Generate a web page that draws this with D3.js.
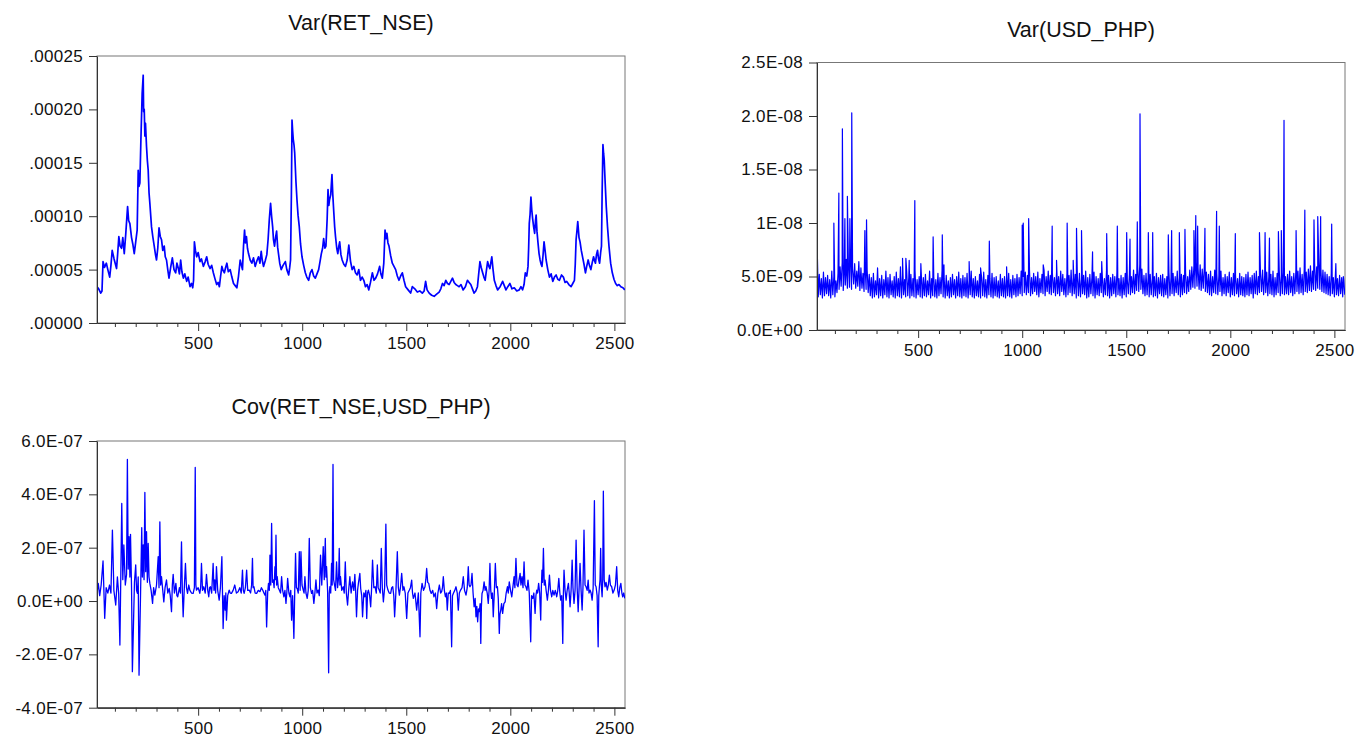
<!DOCTYPE html>
<html>
<head>
<meta charset="utf-8">
<script src="https://cdn.jsdelivr.net/npm/d3@7"></script>
<style>
  body { margin: 0; background: #fff; }
  svg { display: block; }
  .title { font-family: "Liberation Sans", Arial, sans-serif; font-size: 21.5px; fill: #111; }
  .tick text { font-family: "Liberation Sans", Arial, sans-serif; font-size: 17px; letter-spacing: 0.3px; fill: #111; }
</style>
</head>
<body>
<script>
// observation range shown on every x axis
var obsRange = [14, 2551];
var xMajor = [500, 1000, 1500, 2000, 2500];
var xMinor = [100, 200, 300, 400, 600, 700, 800, 900, 1100, 1200, 1300, 1400,
              1600, 1700, 1800, 1900, 2100, 2200, 2300, 2400];

// Var(RET_NSE), values in 1e-5
var nseTicks = [0, 5e-5, 10e-5, 15e-5, 20e-5, 25e-5];
var nseLabels = [".00000", ".00005", ".00010", ".00015", ".00020", ".00025"];
var nseVar = [
  [14, 3.4], [22, 3.2], [32, 2.8], [38, 3.0], [43, 5.75], [50, 5.2], [59, 5.6], [66, 5.0], [75, 4.3], [81, 5.4],
  [87, 6.8], [96, 6.0], [108, 5.1], [113, 6.4], [119, 8.1], [125, 7.2], [132, 7.0], [138, 8.0], [145, 6.5], [152, 8.3],
  [161, 10.9], [166, 9.6], [172, 9.3], [180, 8.0], [186, 7.4], [193, 6.5], [200, 7.6], [207, 8.7], [212, 14.3], [216, 12.8],
  [220, 13.1], [225, 17.2], [231, 21.5], [236, 23.2], [238, 19.8], [241, 20.0], [244, 17.5], [247, 18.7], [252, 16.5], [256, 15.2],
  [260, 14.3], [264, 12.2], [268, 11.2], [276, 9.0], [282, 8.1], [289, 7.2], [295, 6.4], [300, 5.9], [306, 7.0], [312, 8.9],
  [318, 8.1], [324, 7.8], [330, 6.8], [337, 7.2], [342, 6.2], [348, 5.9], [354, 5.0], [360, 4.2], [368, 5.2], [376, 6.1],
  [384, 5.0], [392, 4.7], [398, 5.6], [405, 5.1], [410, 4.6], [416, 5.9], [422, 4.8], [429, 4.2], [436, 4.6], [445, 3.9],
  [452, 4.3], [461, 3.4], [468, 3.7], [474, 3.3], [478, 4.0], [482, 7.6], [487, 6.8], [493, 6.2], [500, 6.6], [509, 5.75],
  [516, 6.0], [525, 5.3], [533, 5.7], [541, 6.2], [548, 5.5], [557, 5.1], [565, 5.4], [573, 4.7], [580, 4.2], [589, 3.6],
  [596, 3.8], [602, 3.4], [608, 4.4], [614, 5.3], [620, 4.9], [626, 4.7], [632, 5.2], [638, 5.6], [645, 4.8], [654, 5.0],
  [662, 4.3], [670, 3.7], [678, 3.5], [686, 3.3], [694, 4.4], [702, 5.9], [708, 5.4], [713, 5.0], [718, 7.2], [723, 8.7],
  [727, 7.5], [732, 8.1], [737, 7.0], [742, 6.5], [750, 5.9], [758, 5.6], [766, 6.1], [774, 5.3], [782, 5.8], [790, 6.2],
  [797, 5.6], [803, 6.7], [808, 5.9], [814, 5.3], [822, 5.8], [830, 6.4], [836, 7.8], [842, 9.7], [848, 11.2], [853, 10.0],
  [858, 9.0], [862, 7.8], [867, 7.2], [872, 8.0], [877, 8.6], [882, 7.1], [886, 6.5], [892, 5.6], [899, 5.0], [908, 5.4],
  [919, 5.75], [926, 5.0], [935, 4.5], [940, 5.2], [944, 5.9], [948, 12.0], [951, 19.0], [954, 18.0], [957, 17.2], [961, 16.6],
  [964, 15.9], [970, 13.2], [975, 11.5], [980, 10.1], [986, 9.0], [992, 7.4], [999, 6.2], [1007, 5.4], [1015, 4.7], [1022, 4.3],
  [1031, 4.0], [1039, 4.7], [1047, 5.0], [1055, 4.4], [1063, 4.2], [1071, 4.6], [1079, 5.0], [1086, 5.8], [1092, 6.5], [1098, 7.0],
  [1103, 7.9], [1109, 7.0], [1114, 7.2], [1120, 9.8], [1124, 12.5], [1128, 11.0], [1131, 11.5], [1137, 12.0], [1143, 13.9], [1147, 12.0],
  [1152, 10.3], [1156, 9.0], [1160, 8.1], [1166, 7.0], [1171, 6.5], [1176, 7.2], [1180, 7.6], [1186, 6.4], [1192, 5.9], [1200, 5.5],
  [1208, 5.3], [1216, 5.9], [1224, 7.3], [1232, 5.8], [1240, 5.0], [1248, 5.3], [1256, 4.7], [1264, 4.5], [1272, 5.0], [1280, 4.0],
  [1288, 4.3], [1296, 4.0], [1304, 3.4], [1312, 3.6], [1320, 3.1], [1328, 3.8], [1337, 4.7], [1345, 4.0], [1353, 4.2], [1362, 4.6],
  [1372, 5.3], [1378, 4.6], [1385, 4.2], [1392, 5.6], [1398, 8.7], [1403, 7.9], [1407, 8.4], [1412, 7.5], [1417, 7.2], [1425, 6.3],
  [1433, 5.6], [1441, 5.3], [1449, 5.0], [1457, 4.4], [1465, 4.0], [1473, 4.4], [1481, 4.7], [1489, 4.0], [1497, 3.4], [1509, 3.1],
  [1521, 2.8], [1529, 3.4], [1541, 3.2], [1553, 2.9], [1565, 3.0], [1577, 2.8], [1586, 3.0], [1593, 3.9], [1600, 3.1], [1610, 2.8],
  [1622, 2.6], [1634, 2.5], [1646, 2.7], [1658, 2.9], [1666, 3.2], [1674, 3.7], [1682, 3.5], [1690, 4.0], [1698, 3.7], [1706, 3.6],
  [1714, 3.9], [1722, 4.2], [1730, 3.8], [1738, 3.6], [1746, 3.5], [1754, 3.4], [1763, 3.6], [1773, 3.1], [1784, 3.4], [1794, 4.0],
  [1802, 3.8], [1810, 3.6], [1818, 3.2], [1826, 2.8], [1834, 3.0], [1842, 3.4], [1848, 4.6], [1854, 5.75], [1860, 5.2], [1867, 4.7],
  [1873, 4.3], [1879, 4.0], [1885, 4.9], [1891, 5.75], [1897, 5.3], [1902, 5.1], [1906, 5.6], [1911, 6.2], [1917, 5.0], [1923, 4.0],
  [1931, 3.5], [1939, 3.1], [1951, 3.4], [1963, 3.9], [1971, 3.5], [1979, 3.1], [1988, 3.4], [1998, 3.7], [2008, 3.2], [2019, 3.3],
  [2031, 3.0], [2043, 3.1], [2051, 3.4], [2059, 3.1], [2066, 3.6], [2072, 4.7], [2079, 4.4], [2085, 5.3], [2088, 7.0], [2091, 9.3],
  [2095, 10.2], [2099, 11.8], [2103, 10.6], [2107, 9.8], [2112, 9.0], [2117, 8.4], [2121, 9.6], [2124, 10.1], [2128, 8.6], [2133, 7.5],
  [2138, 6.5], [2143, 5.9], [2148, 5.5], [2152, 5.3], [2157, 6.3], [2162, 7.6], [2167, 6.8], [2172, 5.9], [2180, 5.0], [2188, 4.3],
  [2196, 4.6], [2204, 3.9], [2212, 4.3], [2220, 4.5], [2228, 4.1], [2236, 4.0], [2246, 4.5], [2255, 4.3], [2263, 3.8], [2271, 3.9],
  [2281, 3.6], [2292, 3.4], [2300, 3.7], [2308, 4.0], [2312, 5.5], [2316, 7.8], [2320, 8.6], [2324, 9.5], [2330, 8.0], [2335, 7.6],
  [2341, 6.8], [2348, 6.1], [2354, 5.5], [2361, 4.7], [2367, 5.3], [2374, 5.9], [2380, 5.4], [2387, 5.0], [2394, 5.7], [2400, 6.2],
  [2405, 5.8], [2409, 5.6], [2414, 6.4], [2419, 6.8], [2424, 6.0], [2429, 5.6], [2434, 6.6], [2438, 7.2], [2441, 12.0], [2445, 16.7],
  [2448, 15.9], [2451, 15.3], [2456, 13.0], [2461, 10.9], [2467, 9.0], [2474, 7.2], [2482, 5.6], [2490, 4.7], [2498, 4.1], [2506, 3.7],
  [2514, 3.5], [2522, 3.6], [2531, 3.4], [2541, 3.3], [2550, 3.1]
];

// Var(USD_PHP), values in 1e-9
var usdTicks = [0, 5e-9, 10e-9, 15e-9, 20e-9, 25e-9];
var usdLabels = ["0.0E+00", "5.0E-09", "1E-08", "1.5E-08", "2.0E-08", "2.5E-08"];
// background band, one value every 5 observations starting at obs 20
var usdBase = [
  3.1, 5.2, 3.3, 4.8, 3.0, 5.4, 3.2, 4.9, 3.4, 5.1,
  3.2, 4.7, 3.0, 5.5, 3.3, 5.0, 3.1, 4.6, 3.5, 5.3,
  3.8, 5.9, 4.1, 6.3, 3.7, 5.6, 4.2, 6.6, 3.9, 6.0,
  4.0, 6.8, 3.8, 5.7, 4.3, 6.2, 3.9, 5.5, 4.1, 6.4,
  3.7, 5.8, 3.9, 5.3, 3.6, 6.1, 3.8, 5.6, 3.5, 5.2,
  3.2, 4.9, 3.0, 5.3, 3.1, 4.6, 3.3, 5.8, 3.0, 4.8,
  3.2, 5.1, 3.0, 4.7, 3.3, 5.5, 3.1, 4.9, 3.0, 5.2,
  3.3, 4.6, 3.1, 5.0, 3.0, 5.4, 3.2, 4.8, 3.1, 5.9,
  3.0, 5.1, 3.3, 4.7, 3.1, 5.5, 3.2, 4.9, 3.0, 5.2,
  3.2, 4.8, 3.1, 5.6, 3.0, 4.7, 3.3, 5.0, 3.1, 5.3,
  3.0, 4.9, 3.2, 5.2, 3.1, 4.6, 3.3, 5.5, 3.0, 4.8,
  3.2, 5.0, 3.1, 4.7, 3.0, 5.3, 3.2, 4.9, 3.4, 5.6,
  3.1, 4.8, 3.0, 5.1, 3.2, 4.6, 3.0, 4.9, 3.1, 5.2,
  3.3, 4.7, 3.0, 5.0, 3.2, 5.4, 3.1, 4.8, 3.0, 5.1,
  3.2, 4.9, 3.1, 5.3, 3.0, 4.7, 3.3, 5.5, 3.1, 4.8,
  3.0, 5.0, 3.2, 4.6, 3.1, 5.2, 3.0, 4.9, 3.2, 5.4,
  3.1, 4.7, 3.0, 5.1, 3.3, 4.8, 3.1, 5.3, 3.0, 4.9,
  3.2, 5.0, 3.1, 4.6, 3.0, 5.2, 3.2, 4.8, 3.1, 5.0,
  3.0, 4.9, 3.2, 5.3, 3.1, 4.7, 3.0, 5.1, 3.3, 4.8,
  3.1, 5.2, 3.2, 4.9, 3.4, 5.5, 3.2, 5.0, 3.5, 5.4,
  3.3, 5.1, 3.5, 5.6, 3.2, 4.9, 3.4, 5.3, 3.6, 5.0,
  3.3, 5.4, 3.1, 4.8, 3.5, 5.2, 3.4, 5.6, 3.2, 5.0,
  3.6, 5.5, 3.4, 5.1, 3.3, 5.3, 3.5, 4.9, 3.2, 5.4,
  3.4, 5.0, 3.2, 5.5, 3.6, 5.2, 3.3, 4.8, 3.1, 5.3,
  3.3, 5.1, 3.5, 5.6, 3.2, 4.9, 3.4, 5.2, 3.0, 5.0,
  3.2, 5.3, 3.1, 4.8, 3.4, 5.1, 3.3, 5.5, 3.0, 4.9,
  3.1, 5.2, 3.4, 4.9, 3.2, 5.4, 3.0, 5.0, 3.3, 4.8,
  3.2, 5.3, 3.5, 5.0, 3.1, 4.8, 3.3, 5.5, 3.2, 5.1,
  3.0, 4.9, 3.2, 5.2, 3.4, 5.0, 3.1, 5.4, 3.3, 4.8,
  3.2, 5.1, 3.0, 4.9, 3.3, 5.3, 3.1, 4.7, 3.4, 5.2,
  3.3, 5.0, 3.5, 5.6, 3.4, 5.2, 3.7, 5.9, 3.6, 6.2,
  3.8, 5.7, 3.4, 5.1, 3.2, 5.3, 3.3, 4.9, 3.1, 5.2,
  3.3, 4.8, 3.1, 5.0, 3.2, 5.3, 3.0, 4.9, 3.4, 5.1,
  3.2, 5.2, 3.1, 4.8, 3.3, 5.0, 3.0, 5.4, 3.2, 4.9,
  3.4, 5.3, 3.2, 5.0, 3.5, 5.5, 3.3, 4.9, 3.1, 5.2,
  3.3, 5.1, 3.5, 5.4, 3.4, 5.0, 3.6, 5.6, 3.8, 5.9,
  4.0, 6.0, 3.9, 6.3, 4.1, 5.8, 3.8, 6.1, 3.7, 5.7,
  3.9, 5.9, 3.6, 5.4, 3.5, 5.2, 3.3, 5.5, 3.2, 5.0,
  3.5, 5.6, 3.4, 5.3, 3.3, 5.1, 3.6, 5.5, 3.2, 4.9,
  3.4, 5.2, 3.2, 5.0, 3.5, 5.4, 3.1, 4.9, 3.3, 5.3,
  3.2, 5.1, 3.4, 4.8, 3.1, 5.3, 3.3, 5.0, 3.2, 4.9,
  3.1, 5.2, 3.3, 5.4, 3.2, 4.9, 3.4, 5.1, 3.0, 5.3,
  3.4, 5.5, 3.3, 5.0, 3.5, 5.3, 3.6, 5.6, 3.3, 5.1,
  3.5, 5.4, 3.2, 5.0, 3.4, 5.2, 3.3, 5.5, 3.1, 4.9,
  3.3, 5.3, 3.5, 5.6, 3.2, 5.1, 3.4, 5.4, 3.3, 5.0,
  3.4, 5.2, 3.3, 5.5, 3.5, 5.0, 3.2, 5.3, 3.4, 5.6,
  3.6, 5.5, 3.4, 5.8, 3.5, 5.2, 3.3, 5.6, 3.6, 5.4,
  3.5, 5.7, 3.7, 6.0, 3.6, 5.5, 3.8, 6.2, 3.7, 5.9,
  3.9, 6.3, 3.8, 5.8, 3.6, 5.6, 3.5, 5.4, 3.4, 5.2,
  3.3, 5.0, 3.2, 5.3, 3.4, 4.9, 3.1, 5.2, 3.3, 4.8,
  3.2, 5.1, 3.4, 4.9, 3.1, 4.7, 3.3
];
var usdSpikes = [
  [14, 8.6], [95, 10.0], [119, 12.8], [136, 18.8], [148, 10.4], [160, 12.5], [172, 10.4], [181, 20.3], [244, 9.3], [252, 10.3],
  [425, 6.7], [441, 6.7], [457, 6.5], [484, 12.1], [513, 6.2], [572, 8.7], [616, 8.9], [624, 6.1], [745, 6.4], [800, 5.8],
  [842, 8.3], [925, 5.9], [1000, 9.8], [1005, 10.0], [1031, 10.4], [1101, 6.1], [1144, 9.7], [1165, 6.5], [1216, 10.0], [1245, 6.5],
  [1261, 9.5], [1285, 9.3], [1338, 7.3], [1382, 6.4], [1406, 9.0], [1457, 9.7], [1502, 9.1], [1518, 8.5], [1553, 10.1], [1566, 20.2],
  [1606, 9.1], [1627, 9.1], [1702, 8.9], [1718, 9.3], [1755, 9.1], [1782, 9.4], [1825, 9.3], [1834, 10.7], [1843, 9.7], [1878, 9.5],
  [1934, 11.1], [1947, 9.7], [2024, 9.0], [2140, 9.1], [2167, 9.1], [2188, 8.6], [2231, 9.2], [2245, 9.3], [2258, 19.6], [2316, 9.3],
  [2358, 11.2], [2402, 10.3], [2420, 10.6], [2434, 10.6], [2487, 9.9], [2507, 6.2], [2543, 5.0]
];

// Cov(RET_NSE,USD_PHP), values in 1e-7
var covTicks = [-4e-7, -2e-7, 0, 2e-7, 4e-7, 6e-7];
var covLabels = ["-4.0E-07", "-2.0E-07", "0.0E+00", "2.0E-07", "4.0E-07", "6.0E-07"];
var cov = [
  [14, 0.3], [20, 0.66], [27, 0.2], [34, 0.6], [43, 1.5], [51, -0.65], [58, 0.5], [66, 0.3], [74, 0.6], [81, 0.3],
  [88, 2.66], [95, 0.4], [104, -0.15], [112, 0.9], [118, 0.3], [124, -1.65], [133, 3.66], [138, 0.8], [143, 2.1], [150, 0.6],
  [156, 1.0], [160, 5.31], [164, 1.2], [168, 2.41], [172, 0.9], [175, 2.5], [180, 0.5], [184, -2.65], [189, -0.97], [194, 0.7],
  [200, 1.35], [204, 0.4], [208, 0.285], [212, 0.9], [216, -2.78], [223, 0.16], [229, 2.75], [232, 0.9], [236, 2.1], [240, 0.8],
  [244, 4.07], [248, 1.1], [252, 2.6], [256, 0.7], [260, 2.16], [264, 0.9], [268, 0.66], [274, 0.4], [281, -0.09], [286, 0.5],
  [292, 0.22], [300, 0.6], [308, 1.66], [312, 0.5], [316, 2.97], [320, 0.6], [324, 0.91], [330, 0.4], [335, -0.03], [341, 0.5],
  [348, 0.79], [354, 0.3], [361, 0.47], [366, 0.2], [372, -0.4], [376, 0.6], [380, 1.0], [386, 0.3], [393, 0.66], [398, 0.2],
  [402, 0.16], [410, 0.5], [415, 0.3], [420, 2.22], [424, 0.4], [428, -0.59], [433, 0.4], [439, 1.41], [444, 0.5], [449, 0.285],
  [455, 0.6], [460, 0.41], [468, 0.3], [476, 0.285], [482, 0.5], [486, 5.01], [489, 0.6], [492, 0.41], [500, 0.5], [508, 0.285],
  [512, 0.5], [516, 1.41], [521, 0.4], [527, 0.535], [534, 0.3], [540, 1.0], [546, 0.4], [551, 0.16], [555, 0.5], [559, 0.535],
  [565, 0.3], [572, 1.41], [576, 0.4], [580, 0.79], [584, 0.3], [588, 1.29], [594, 0.4], [601, 0.035], [607, 0.5], [614, 1.66],
  [617, 0.3], [620, -1.03], [625, 0.2], [630, -0.34], [633, 0.3], [636, -0.72], [642, 0.2], [649, 0.41], [654, 0.3], [660, 0.285],
  [668, 0.4], [676, 0.6], [684, 0.3], [692, 0.35], [700, 0.5], [707, 0.3], [713, 1.16], [717, 0.4], [721, 0.285], [727, 0.5],
  [733, 1.16], [738, 0.4], [745, 0.41], [752, 0.3], [757, 0.6], [761, 1.6], [764, 0.5], [768, 0.535], [774, 0.3], [781, 0.285],
  [789, 0.4], [797, 0.35], [804, 0.5], [810, 0.41], [816, 0.3], [821, 0.22], [825, 0.4], [829, -0.97], [834, 0.3], [838, 0.66],
  [842, 0.4], [845, 1.72], [849, 0.6], [853, 2.91], [857, 0.7], [861, 0.79], [865, 0.5], [869, 1.29], [871, 0.8], [874, 2.47],
  [877, 0.6], [880, 0.91], [885, 0.5], [890, 0.41], [896, 0.3], [901, 0.91], [906, 0.4], [912, 0.16], [917, 0.4], [922, -0.09],
  [926, 0.3], [930, 0.85], [936, 0.3], [941, 0.16], [945, 0.4], [949, -0.72], [954, 0.2], [960, -1.4], [964, 0.3], [968, 1.79],
  [972, 0.5], [976, 0.47], [981, 0.3], [986, 1.85], [990, 0.4], [994, 1.85], [999, 0.6], [1005, 0.41], [1009, 0.3], [1013, 0.91],
  [1018, 0.3], [1024, 0.1], [1029, 0.4], [1034, 2.35], [1039, 0.5], [1045, 0.285], [1050, 0.4], [1056, -0.09], [1061, 0.3], [1066, 0.79],
  [1071, 0.3], [1077, 0.41], [1082, 0.2], [1088, 1.72], [1094, 0.6], [1101, 2.04], [1106, 0.8], [1111, 2.35], [1114, 0.9], [1117, 1.29],
  [1122, 0.4], [1127, -2.69], [1130, 0.3], [1133, 0.535], [1137, 0.3], [1141, 1.41], [1144, 0.6], [1148, 5.12], [1151, 0.8], [1154, 0.66],
  [1160, 0.4], [1165, 1.47], [1170, 0.5], [1175, 0.9], [1178, 1.97], [1181, 0.6], [1184, 0.91], [1190, 0.4], [1197, 0.535], [1202, 0.3],
  [1207, 1.47], [1212, 0.3], [1218, -0.15], [1223, 0.4], [1229, 0.91], [1235, 0.3], [1242, 0.72], [1248, 0.4], [1253, 1.0], [1257, 0.3],
  [1261, -0.59], [1266, 0.4], [1270, 0.66], [1277, 1.035], [1281, 0.47], [1286, 0.2], [1290, -0.59], [1296, 0.3], [1301, 0.16], [1306, 0.4],
  [1310, -0.65], [1314, 0.3], [1318, 0.41], [1324, 0.2], [1329, -0.215], [1333, 0.4], [1338, 1.535], [1344, 0.5], [1350, 0.535], [1356, 0.3],
  [1361, 1.35], [1365, 0.5], [1370, 0.41], [1375, 0.3], [1380, 1.97], [1385, 0.5], [1390, -0.03], [1396, 0.5], [1402, 2.885], [1406, 0.6],
  [1412, 0.41], [1418, 0.3], [1425, 0.285], [1430, 0.5], [1435, 0.535], [1440, 0.2], [1444, -0.59], [1450, 0.3], [1457, 1.85], [1462, 0.5],
  [1467, 0.22], [1472, 0.5], [1478, 1.035], [1484, 0.4], [1489, 0.535], [1495, 0.3], [1502, -0.65], [1508, 0.3], [1515, 0.41], [1520, 0.5],
  [1526, 0.785], [1530, 0.3], [1534, 0.1], [1542, 0.3], [1550, -0.34], [1558, 0.3], [1566, -1.34], [1570, 0.3], [1576, 0.66], [1583, 0.4],
  [1590, 0.535], [1594, 0.8], [1598, 1.22], [1603, 0.7], [1608, 0.66], [1614, 0.4], [1620, 0.285], [1627, 0.4], [1633, 0.16], [1640, 0.3],
  [1646, -0.28], [1652, 0.3], [1659, 0.6], [1665, 0.3], [1670, 0.35], [1674, 0.5], [1678, 0.91], [1683, 0.4], [1688, 0.16], [1693, 0.3],
  [1697, -0.34], [1702, 0.3], [1707, 0.285], [1712, 0.4], [1718, -1.715], [1722, 0.2], [1726, 0.285], [1733, 0.4], [1739, 0.535], [1745, 0.3],
  [1750, -0.34], [1755, 0.3], [1761, 0.41], [1768, 0.5], [1774, 0.91], [1780, 0.4], [1787, 0.22], [1793, 0.5], [1798, 1.285], [1802, 0.6],
  [1806, 0.535], [1811, 0.6], [1816, 1.035], [1821, 0.3], [1826, -0.215], [1831, 0.1], [1835, -0.59], [1839, -0.2], [1843, -0.78], [1847, -0.3],
  [1851, -0.4], [1855, -0.1], [1858, -1.59], [1861, -0.2], [1864, 0.285], [1869, 0.4], [1874, 0.72], [1879, 0.4], [1883, 0.535], [1889, 0.3],
  [1894, -0.09], [1898, 0.4], [1902, 1.41], [1906, 0.4], [1910, 0.1], [1914, 0.3], [1918, -0.59], [1923, 0.3], [1928, 1.41], [1933, 0.5],
  [1938, 0.535], [1942, 0.1], [1947, -1.215], [1950, -0.5], [1954, -0.34], [1958, -0.1], [1963, -0.465], [1969, -0.1], [1975, -0.03], [1980, 0.3],
  [1986, 0.535], [1990, 0.3], [1995, 0.72], [2001, 0.4], [2007, 0.16], [2012, 0.5], [2018, 0.91], [2022, 0.5], [2027, 1.6], [2032, 0.6],
  [2037, 0.535], [2042, 0.8], [2047, 1.035], [2051, 0.6], [2056, 0.91], [2061, 0.5], [2066, 1.47], [2070, 0.6], [2075, 0.535], [2080, 0.4],
  [2085, 0.785], [2091, 0.3], [2098, -1.53], [2102, 0.2], [2108, 0.1], [2113, 0.3], [2119, -0.465], [2123, 0.2], [2127, 0.41], [2131, 0.3],
  [2136, 0.66], [2141, 0.3], [2146, -0.715], [2149, 0.5], [2152, 1.16], [2155, 0.7], [2159, 1.97], [2163, 0.6], [2167, 0.785], [2172, 0.4],
  [2178, 0.035], [2183, 0.4], [2188, 0.97], [2193, 0.4], [2199, 0.16], [2204, 0.4], [2210, 0.22], [2216, 0.4], [2223, 0.16], [2228, 0.4],
  [2233, 0.85], [2238, 0.3], [2242, 0.035], [2247, 0.2], [2252, -1.59], [2255, 0.3], [2258, 1.16], [2263, 0.4], [2268, 0.035], [2273, 0.4],
  [2279, 0.66], [2283, 0.3], [2287, -0.215], [2292, 0.4], [2297, 1.535], [2301, 0.5], [2306, -0.09], [2311, 0.4], [2316, 2.285], [2321, 0.5],
  [2326, -0.4], [2330, 0.4], [2335, 1.41], [2340, 0.4], [2345, -0.34], [2349, 0.5], [2354, 2.66], [2359, 0.6], [2364, 0.535], [2369, 0.4],
  [2374, 0.785], [2378, 0.3], [2383, 0.41], [2388, 0.3], [2393, 0.035], [2398, 0.5], [2404, 3.76], [2408, 0.6], [2412, 0.535], [2417, 0.2],
  [2422, -1.715], [2425, 0.2], [2428, 0.535], [2431, 0.8], [2434, 1.97], [2437, 0.6], [2441, 0.16], [2444, 0.8], [2447, 4.12], [2451, 0.8],
  [2455, 0.535], [2460, 0.7], [2466, 0.41], [2471, 0.6], [2476, 0.97], [2481, 0.6], [2487, 0.535], [2493, 0.3], [2499, 0.41], [2505, 0.6],
  [2511, 1.285], [2516, 0.4], [2521, 0.16], [2526, 0.5], [2531, 0.66], [2536, 0.3], [2540, 0.16], [2545, 0.3], [2550, 0.1]
];

var width = 1372, height = 738;

var svg = d3.select("body").append("svg")
    .attr("width", width)
    .attr("height", height);

// merge the USD background band and its spikes into one series
var usdSeries = usdBase.map(function(v, i) { return [20 + i * 5, v]; })
    .concat(usdSpikes)
    .sort(function(a, b) { return a[0] - b[0]; });

var panels = [
    {title: "Var(RET_NSE)", left: 97, right: 625, top: 56, bottom: 323, titleY: 30, lw: 1.7,
     domain: [0, 25e-5], ticks: nseTicks, labels: nseLabels, unit: 1e-5, data: nseVar},
    {title: "Var(USD_PHP)", left: 817, right: 1345, top: 62.5, bottom: 330, titleY: 37, lw: 1.2,
     domain: [0, 25e-9], ticks: usdTicks, labels: usdLabels, unit: 1e-9, data: usdSeries},
    {title: "Cov(RET_NSE,USD_PHP)", left: 97, right: 625, top: 441, bottom: 707.7, titleY: 414, lw: 1.3,
     domain: [-4e-7, 6e-7], ticks: covTicks, labels: covLabels, unit: 1e-7, data: cov}
];

panels.forEach(function(p, k) {
    var x = d3.scaleLinear().domain(obsRange).range([p.left, p.right]);
    var y = d3.scaleLinear().domain(p.domain).range([p.bottom, p.top]);
    var g = svg.append("g");

    g.append("text")
        .attr("class", "title")
        .attr("x", (p.left + p.right) / 2)
        .attr("y", p.titleY)
        .attr("text-anchor", "middle")
        .text(p.title);

    // frame
    g.append("rect")
        .attr("x", p.left).attr("y", p.top)
        .attr("width", p.right - p.left).attr("height", p.bottom - p.top)
        .style("fill", "none")
        .style("stroke", "#777")
        .style("stroke-width", 1);

    g.append("clipPath").attr("id", "clip" + k)
        .append("rect")
        .attr("x", p.left).attr("y", p.top)
        .attr("width", p.right - p.left).attr("height", p.bottom - p.top);

    var line = d3.line()
        .x(function(d) { return x(d[0]); })
        .y(function(d) { return y(d[1] * p.unit); });

    g.append("path")
        .datum(p.data)
        .attr("clip-path", "url(#clip" + k + ")")
        .attr("d", line)
        .style("fill", "none")
        .style("stroke", "#0000ff")
        .style("stroke-width", p.lw)
        .style("stroke-linejoin", "round");

    // y axis
    g.append("g")
        .attr("transform", "translate(" + p.left + ",0)")
        .call(d3.axisLeft(y)
            .tickValues(p.ticks)
            .tickFormat(function(d, i) { return p.labels[i]; })
            .tickSize(8).tickPadding(6).tickSizeOuter(0));

    // x axis, minor then major ticks
    g.append("g")
        .attr("transform", "translate(0," + p.bottom + ")")
        .call(d3.axisBottom(x).tickValues(xMinor).tickSize(4).tickFormat("").tickSizeOuter(0));

    g.append("g")
        .attr("transform", "translate(0," + p.bottom + ")")
        .call(d3.axisBottom(x).tickValues(xMajor).tickFormat(d3.format("d"))
            .tickSize(8).tickPadding(6).tickSizeOuter(0));

    g.selectAll(".domain").style("stroke", "#333");
    g.selectAll(".tick line").style("stroke", "#333");
});
</script>
</body>
</html>
